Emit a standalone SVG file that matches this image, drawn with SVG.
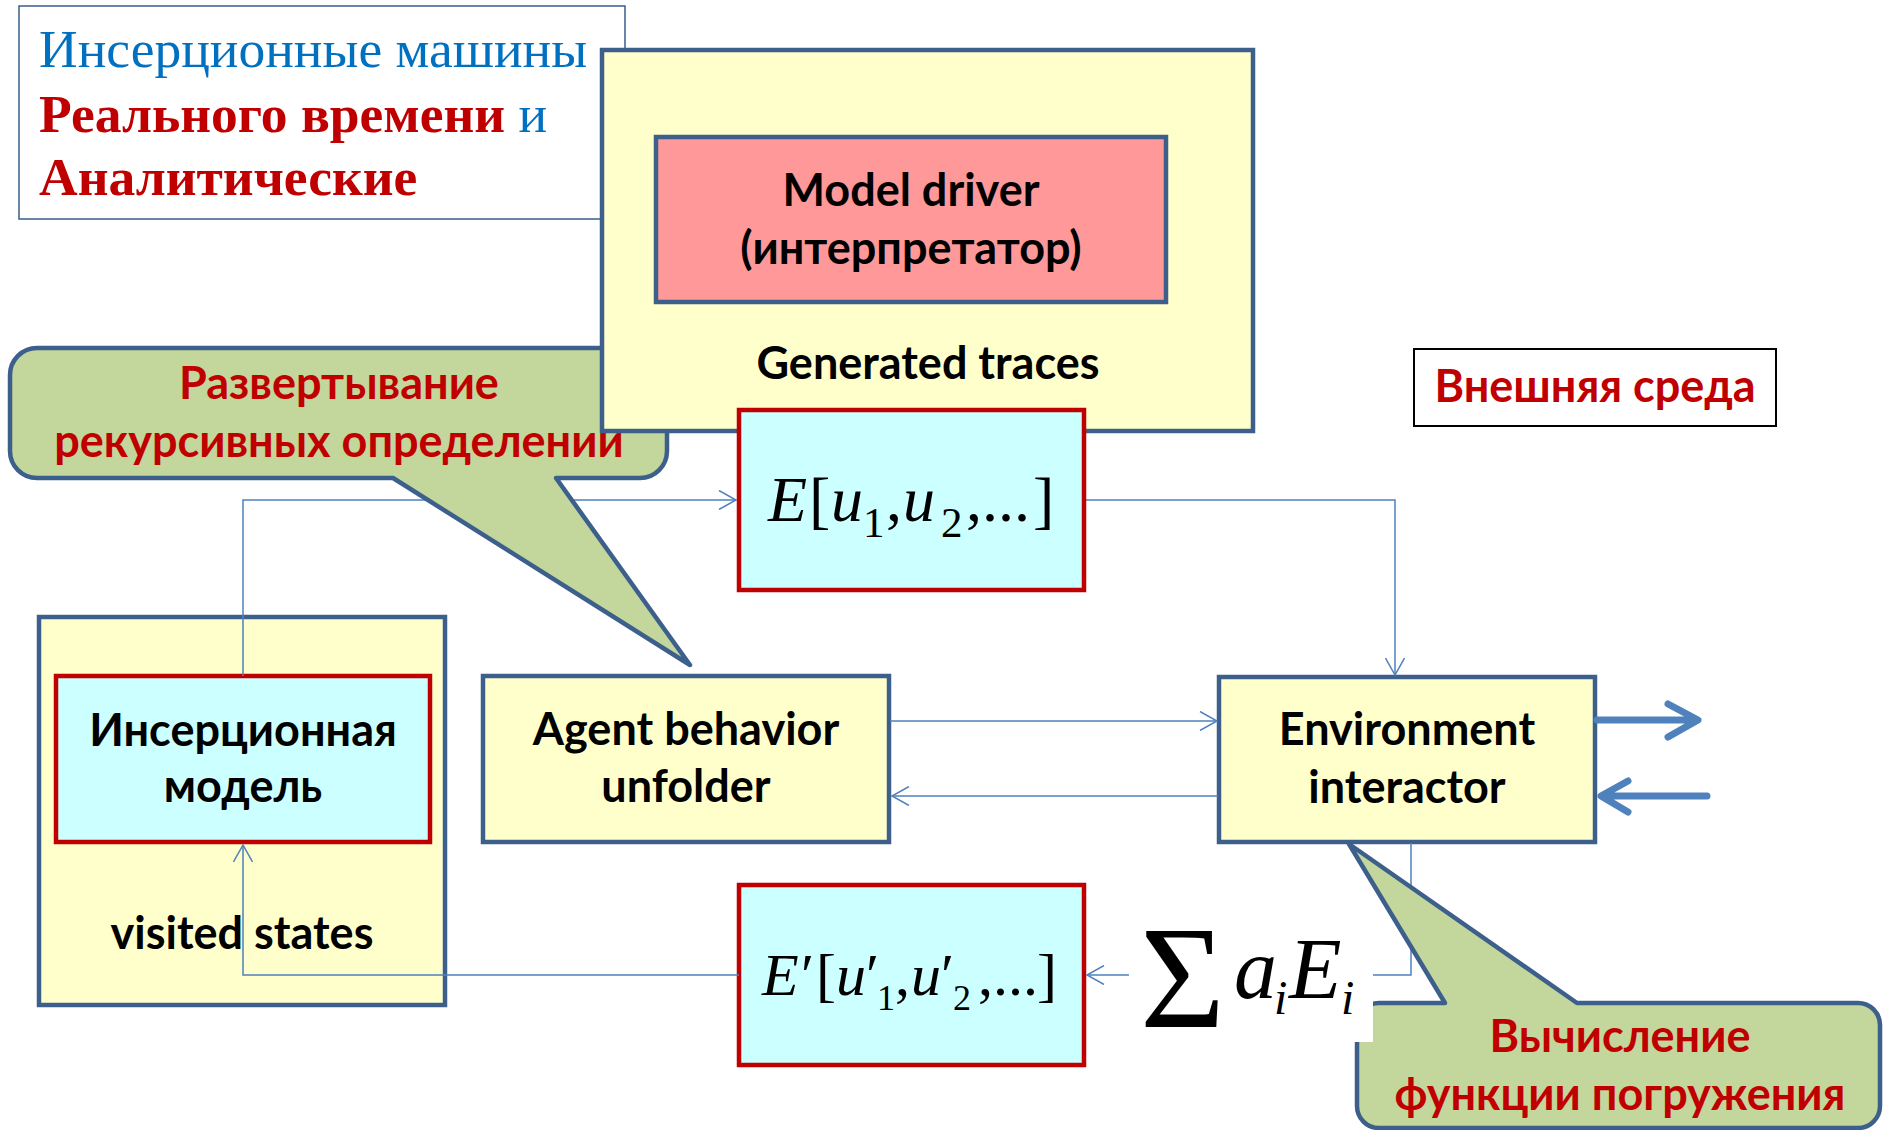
<svg xmlns="http://www.w3.org/2000/svg" width="1883" height="1130" viewBox="0 0 1883 1130">
  <style>
    .box-y { fill: #ffffcc; stroke: #3c5f8c; stroke-width: 4.5; }
    .box-c { fill: #ccffff; stroke: #c00000; stroke-width: 4.5; }
    .box-p { fill: #ff9999; stroke: #3c5f8c; stroke-width: 4.5; }
    .callout { fill: #c3d69b; stroke: #3c5f8c; stroke-width: 4.5; stroke-linejoin: round; }
    .lbl { font-family: "Lato", "Liberation Sans", "DejaVu Sans", sans-serif; font-weight: bold; font-size: 45px; fill: #000; text-anchor: middle; }
    .red { fill: #c00000; }
    .math { font-family: "Liberation Serif", "DejaVu Serif", serif; fill: #000; }
    .it { font-style: italic; }
    .conn { fill: none; stroke: #4f81bd; stroke-width: 1.5; }
    .thick { fill: none; stroke: #4f81bd; stroke-width: 7; stroke-linecap: round; stroke-linejoin: round; }
  </style>
  <defs>
    <marker id="open" markerUnits="userSpaceOnUse" viewBox="0 0 20 20" markerWidth="20" markerHeight="20" refX="18" refY="10" orient="auto">
      <path d="M1,0.5 L18,10 L1,19.5" fill="none" stroke="#4f81bd" stroke-width="1.5"/>
    </marker>
  </defs>
  <rect width="1883" height="1130" fill="#ffffff"/>

  <!-- heading -->
  <g id="title">
    <rect x="19" y="6" width="606" height="213" fill="#ffffff" stroke="#385d8a" stroke-width="1.5"/>
    <text font-family="Liberation Serif, serif" font-size="53.5" fill="#0070c0">
      <tspan x="39" y="67">Инсерционные машины</tspan>
      <tspan x="39" y="132"><tspan font-weight="bold" fill="#c00000">Реального времени</tspan> и</tspan>
      <tspan x="39" y="195" font-weight="bold" fill="#c00000">Аналитические</tspan>
    </text>
  </g>

  <!-- lower row of blocks -->
  <g id="visited-states">
    <rect class="box-y" x="39" y="617" width="406" height="388"/>
    <text class="lbl" x="242" y="949">visited states</text>
  </g>

  <g id="insertion-model">
    <rect class="box-c" x="56" y="676" width="374" height="166"/>
    <text class="lbl" x="243" y="746">Инсерционная</text>
    <text class="lbl" x="243" y="802">модель</text>
  </g>

  <g id="agent-unfolder">
    <rect class="box-y" x="483" y="676" width="406" height="166"/>
    <text class="lbl" x="686" y="745">Agent behavior</text>
    <text class="lbl" x="686" y="802">unfolder</text>
  </g>

  <g id="env-interactor">
    <rect class="box-y" x="1219" y="677" width="376" height="165"/>
    <text class="lbl" x="1407" y="745">Environment</text>
    <text class="lbl" x="1407" y="803">interactor</text>
  </g>

  <g id="term-e-prime">
    <rect class="box-c" x="739" y="885" width="345" height="180"/>
    <text class="math" font-size="60" y="995">
      <tspan class="it" x="762">E</tspan><tspan x="801">′</tspan><tspan x="816">[</tspan><tspan class="it" x="836">u</tspan><tspan x="866">′</tspan><tspan x="877" y="1010" font-size="36">1</tspan><tspan x="895" y="995">,</tspan><tspan class="it" x="911">u</tspan><tspan x="941">′</tspan><tspan x="953" y="1010" font-size="36">2</tspan><tspan x="978" y="995">,...</tspan><tspan x="1037">]</tspan>
    </text>
  </g>

  <!-- connectors -->
  <g id="connectors">
    <path class="conn" d="M243,676 V500 H736" marker-end="url(#open)"/>
    <path class="conn" d="M1085,500 H1395 V675" marker-end="url(#open)"/>
    <path class="conn" d="M890,721 H1217" marker-end="url(#open)"/>
    <path class="conn" d="M1218,796 H892" marker-end="url(#open)"/>
    <path class="conn" d="M1411,843 V975 H1087" marker-end="url(#open)"/>
    <path class="conn" d="M739,975 H243 V845" marker-end="url(#open)"/>
    <path class="thick" d="M1597,720 H1696 M1668,704 L1698,720 L1668,737"/>
    <path class="thick" d="M1707,796 H1603 M1628,781 L1601,796 L1628,812"/>
  </g>

  <!-- callout: unfolding of recursive definitions -->
  <g id="callout-unfold">
    <path class="callout" d="M37,348 H640 A27,27 0 0 1 667,375 V451 A27,27 0 0 1 640,478 H556 L690,665 L393,478 H37 A27,27 0 0 1 10,451 V375 A27,27 0 0 1 37,348 Z"/>
    <text class="lbl red" x="339" y="399">Развертывание</text>
    <text class="lbl red" x="339" y="457">рекурсивных определении</text>
  </g>

  <!-- upper block with the interpreter -->
  <g id="generated-traces">
    <rect class="box-y" x="602" y="50" width="651" height="381"/>
    <text class="lbl" x="928" y="379" font-size="50">Generated traces</text>
  </g>

  <g id="model-driver">
    <rect class="box-p" x="656" y="137" width="510" height="165"/>
    <text class="lbl" x="911" y="206">Model driver</text>
    <text class="lbl" x="911" y="264">(интерпретатор)</text>
  </g>

  <g id="term-e">
    <rect class="box-c" x="739" y="410" width="345" height="180"/>
    <text class="math" font-size="64" y="521">
      <tspan class="it" x="768">E</tspan><tspan x="809">[</tspan><tspan class="it" x="831">u</tspan><tspan x="863" y="537" font-size="43">1</tspan><tspan x="886" y="521">,</tspan><tspan class="it" x="903">u</tspan><tspan x="941" y="537" font-size="43">2</tspan><tspan x="966" y="521">,...</tspan><tspan x="1033">]</tspan>
    </text>
  </g>

  <g id="external-env">
    <rect x="1414" y="349" width="362" height="77" fill="#ffffff" stroke="#000" stroke-width="2"/>
    <text class="lbl red" x="1595" y="402">Внешняя среда</text>
  </g>

  <!-- callout: immersion function -->
  <g id="callout-immersion">
    <path class="callout" d="M1379,1003 H1445 L1349,844 L1577,1003 H1858 A22,22 0 0 1 1880,1025 V1106 A22,22 0 0 1 1858,1128 H1379 A22,22 0 0 1 1357,1106 V1025 A22,22 0 0 1 1379,1003 Z"/>
    <text class="lbl red" x="1620" y="1052">Вычисление</text>
    <text class="lbl red" x="1620" y="1110">функции погружения</text>
  </g>

  <g id="sum-label">
    <rect x="1129" y="910" width="244" height="132" fill="#ffffff"/>
    <text class="math" font-size="146" x="1140" y="1027">Σ</text>
    <text class="math it" font-size="86" y="998"><tspan x="1234">a</tspan><tspan x="1274" y="1014" font-size="48">i</tspan><tspan x="1289" y="998">E</tspan><tspan x="1341" y="1014" font-size="48">i</tspan></text>
  </g>
</svg>
